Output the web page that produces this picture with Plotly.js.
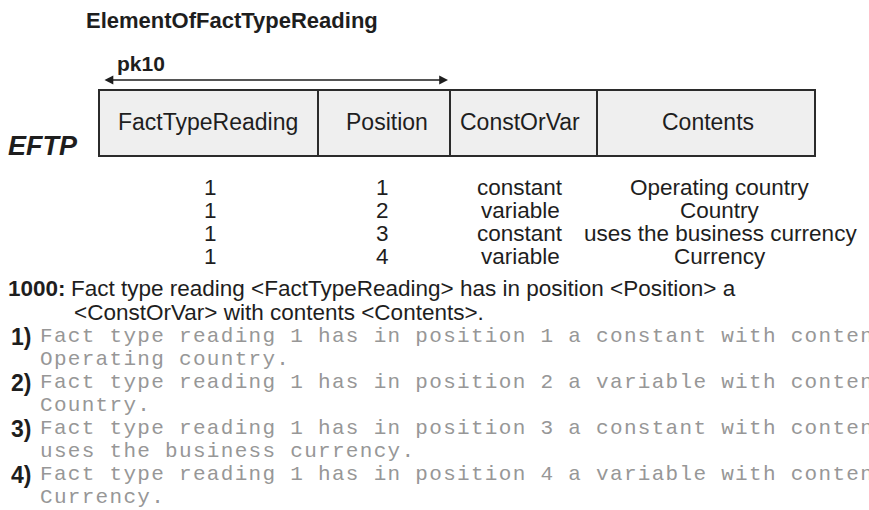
<!DOCTYPE html>
<html>
<head>
<meta charset="utf-8">
<script src="https://cdn.plot.ly/plotly-3.0.1.min.js"></script>
<style>
  html, body { margin: 0; padding: 0; background: #fff; }
  #chart { width: 869px; height: 510px; }
  #chart .textpoint text { letter-spacing: 1.3px; }
</style>
</head>
<body>
<div id="chart"></div>
<script>
// ---- data ----
const tableName = 'ElementOfFactTypeReading';
const tableCode = 'EFTP';
const keyName = 'pk10';
const headers = ['FactTypeReading', 'Position', 'ConstOrVar', 'Contents'];
const factTypeReading = [1, 1, 1, 1];
const position = [1, 2, 3, 4];
const constOrVar = ['constant', 'variable', 'constant', 'variable'];
const contents = ['Operating country', 'Country', 'uses the business currency', 'Currency'];
const ruleNumber = '1000';
const ruleLine1 = 'Fact type reading <FactTypeReading> has in position <Position> a';
const ruleLine2 = '<ConstOrVar> with contents <Contents>.';

// ---- layout geometry (pixel-like coordinates) ----
const colEdges = [99, 318, 450, 597, 815];
const headCenters = [208, 387, 520, 708];
const cellCenters = [210, 382, 520, 720];
const boxTop = 90, boxBottom = 156;
const rowY0 = 187, rowStep = 23;
const keyFrom = 103, keyTo = 448, keyY = 80;

const sans = 'Liberation Sans, Arial, sans-serif';
const mono = 'Liberation Mono, Courier New, monospace';
const ink = '#1e1e1e';
const grey = '#979797';

const shapes = [];
const annotations = [];

// header box
shapes.push({type: 'rect', xref: 'x', yref: 'y', x0: colEdges[0], x1: colEdges[4], y0: boxTop, y1: boxBottom,
  fillcolor: '#efefef', line: {color: '#2b2b2b', width: 2}, layer: 'below'});
for (let i = 1; i < colEdges.length - 1; i++) {
  shapes.push({type: 'line', xref: 'x', yref: 'y', x0: colEdges[i], x1: colEdges[i], y0: boxTop, y1: boxBottom,
    line: {color: '#2b2b2b', width: 2}});
}

// title
annotations.push({x: 232, y: 20, xref: 'x', yref: 'y', text: '<b>' + tableName + '</b>', showarrow: false,
  xanchor: 'center', yanchor: 'middle', font: {family: sans, size: 22, color: ink}});
// key arrow
annotations.push({x: keyTo, y: keyY, ax: keyFrom, ay: keyY, xref: 'x', yref: 'y', axref: 'x', ayref: 'y',
  text: '', showarrow: true, arrowhead: 2, startarrowhead: 2, arrowside: 'end+start', arrowsize: 1.1,
  arrowwidth: 1.6, arrowcolor: ink, startarrowsize: 1.1});
annotations.push({x: 115, y: 63, xref: 'x', yref: 'y', text: '<b>' + keyName + '</b>', showarrow: false,
  xanchor: 'left', yanchor: 'middle', font: {family: sans, size: 21, color: ink}});
// table code
annotations.push({x: 6, y: 146, xref: 'x', yref: 'y', text: '<b><i>' + tableCode + '</i></b>', showarrow: false,
  xanchor: 'left', yanchor: 'middle', font: {family: sans, size: 27, color: ink}});
// headers
headers.forEach((h, i) => {
  annotations.push({x: headCenters[i], y: 122, xref: 'x', yref: 'y', text: h, showarrow: false,
    xanchor: 'center', yanchor: 'middle', font: {family: sans, size: 23, color: ink}});
});
// rows
const columns = [factTypeReading, position, constOrVar, contents];
columns.forEach((col, c) => {
  col.forEach((v, r) => {
    annotations.push({x: cellCenters[c], y: rowY0 + r * rowStep, xref: 'x', yref: 'y', text: String(v), showarrow: false,
      xanchor: 'center', yanchor: 'middle', font: {family: sans, size: 22.5, color: ink}});
  });
});

// rule text
annotations.push({x: 6, y: 288, xref: 'x', yref: 'y', text: '<b>' + ruleNumber + ':</b>', showarrow: false,
  xanchor: 'left', yanchor: 'middle', font: {family: sans, size: 22.5, color: ink}});
annotations.push({x: 69, y: 288, xref: 'x', yref: 'y', text: ruleLine1, showarrow: false,
  xanchor: 'left', yanchor: 'middle', font: {family: sans, size: 22.5, color: ink}});
annotations.push({x: 72, y: 312, xref: 'x', yref: 'y', text: ruleLine2, showarrow: false,
  xanchor: 'left', yanchor: 'middle', font: {family: sans, size: 22.5, color: ink}});

// example sentences
const itemY0 = 337, itemStep = 46, lineGap = 23;
const traces = [];
factTypeReading.forEach((ftr, i) => {
  const y1 = itemY0 + i * itemStep;
  annotations.push({x: 9, y: y1, xref: 'x', yref: 'y', text: '<b>' + (i + 1) + ')</b>', showarrow: false,
    xanchor: 'left', yanchor: 'middle', font: {family: sans, size: 23, color: ink}});
  traces.push({
    type: 'scatter', mode: 'text', cliponaxis: true, hoverinfo: 'skip', showlegend: false,
    x: [40, 40], y: [y1, y1 + lineGap],
    text: ['Fact type reading ' + ftr + ' has in position ' + position[i] + ' a ' + constOrVar[i] + ' with contents',
           contents[i] + '.'],
    textposition: 'middle right',
    textfont: {family: mono, size: 21, color: grey}
  });
});

const layout = {
  width: 869, height: 510,
  margin: {l: 0, r: 0, t: 0, b: 0},
  paper_bgcolor: '#ffffff', plot_bgcolor: '#ffffff',
  xaxis: {range: [0, 869], visible: false, fixedrange: true},
  yaxis: {range: [510, 0], visible: false, fixedrange: true},
  shapes: shapes,
  annotations: annotations,
  showlegend: false
};

Plotly.newPlot('chart', traces, layout, {staticPlot: true, displayModeBar: false});
</script>
</body>
</html>
